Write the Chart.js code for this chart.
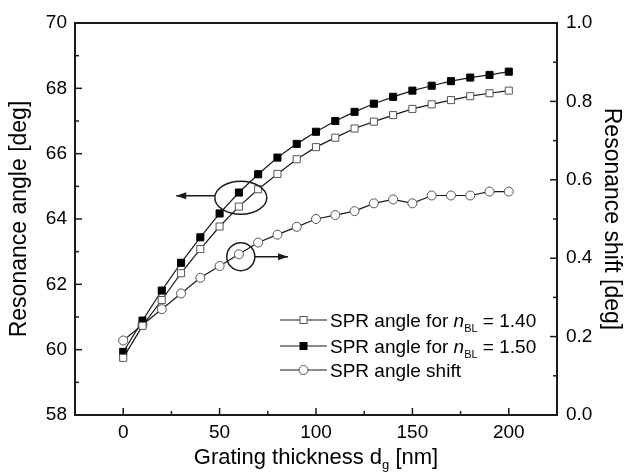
<!DOCTYPE html>
<html lang="en"><head><meta charset="UTF-8"><title>Resonance angle vs grating thickness</title>
<script src="https://cdn.jsdelivr.net/npm/chart.js"></script>
<style>
  html,body{margin:0;padding:0;background:#fff;}
  #wrap{width:631px;height:473px;position:relative;}
</style>
</head><body>
<div id="wrap"><canvas id="c"></canvas></div>
<script>
  // Values
  const thickness  = [0, 10, 20, 30, 40, 50, 60, 70, 80, 90, 100, 110, 120, 130, 140, 150, 160, 170, 180, 190, 200];
  const angle140   = [59.75, 60.73, 61.52, 62.34, 63.08, 63.77, 64.38, 64.91, 65.38, 65.83, 66.20, 66.49, 66.77, 66.98, 67.18, 67.37, 67.51, 67.64, 67.76, 67.85, 67.93];
  const angle150   = [59.93, 60.89, 61.81, 62.66, 63.44, 64.17, 64.81, 65.37, 65.88, 66.30, 66.67, 67.00, 67.28, 67.53, 67.74, 67.93, 68.08, 68.22, 68.33, 68.41, 68.51];
  const angleShift = [0.19, 0.23, 0.27, 0.31, 0.35, 0.38, 0.41, 0.44, 0.46, 0.48, 0.50, 0.51, 0.52, 0.54, 0.55, 0.54, 0.56, 0.56, 0.56, 0.57, 0.57];

  // Tick values
  const xMajorTicks  = [0, 50, 100, 150, 200];
  const xMinorTicks  = [25, 75, 125, 175];
  const yMajorTicks  = [58, 60, 62, 64, 66, 68, 70];
  const yMinorTicks  = [59, 61, 63, 65, 67, 69];
  const y2MajorTicks = [0, 0.2, 0.4, 0.6, 0.8, 1.0];
  const y2MinorTicks = [0.1, 0.3, 0.5, 0.7, 0.9];

  const FONT = '"Liberation Sans", Arial, sans-serif';
  const INK  = '#1a1a1a';

  const pts = arr => thickness.map((x, i) => ({ x, y: arr[i] }));
  const setTicks = list => scale => { scale.ticks = list.map(v => ({ value: v })); };

  function arrow(ctx, x1, y1, x2, y2) {
    ctx.beginPath(); ctx.moveTo(x1, y1); ctx.lineTo(x2, y2); ctx.stroke();
    const dir = Math.sign(x2 - x1);
    ctx.beginPath();
    ctx.moveTo(x2, y2);
    ctx.lineTo(x2 - dir * 10, y2 - 3.5);
    ctx.lineTo(x2 - dir * 10, y2 + 3.5);
    ctx.closePath(); ctx.fill();
  }

  const decor = {
    id: 'decor',
    afterDraw(chart) {
      const { ctx, chartArea: a, scales: { x, y, y2 } } = chart;
      ctx.save();
      ctx.strokeStyle = INK; ctx.fillStyle = INK;

      // frame
      ctx.lineWidth = 2;
      ctx.strokeRect(a.left, a.top, a.right - a.left, a.bottom - a.top);

      // inward ticks
      ctx.lineWidth = 1.5;
      const seg = (x1, y1, x2, y2) => { ctx.beginPath(); ctx.moveTo(x1, y1); ctx.lineTo(x2, y2); ctx.stroke(); };
      xMajorTicks.forEach(v => { const p = x.getPixelForValue(v); seg(p, a.bottom, p, a.bottom - 7); });
      xMinorTicks.forEach(v => { const p = x.getPixelForValue(v); seg(p, a.bottom, p, a.bottom - 4); });
      yMajorTicks.forEach(v => { const p = y.getPixelForValue(v); seg(a.left, p, a.left + 7, p); });
      yMinorTicks.forEach(v => { const p = y.getPixelForValue(v); seg(a.left, p, a.left + 4, p); });
      y2MajorTicks.forEach(v => { const p = y2.getPixelForValue(v); seg(a.right, p, a.right - 7, p); });
      y2MinorTicks.forEach(v => { const p = y2.getPixelForValue(v); seg(a.right, p, a.right - 4, p); });

      // ellipse + arrow pointing to the left axis
      const e1x = x.getPixelForValue(61), e1y = y.getPixelForValue(64.65);
      ctx.beginPath(); ctx.ellipse(e1x, e1y, 26, 16.5, 0, 0, Math.PI * 2); ctx.stroke();
      arrow(ctx, e1x - 26, e1y - 2, x.getPixelForValue(27.5), e1y - 2);

      // circle + arrow pointing to the right axis
      const e2x = x.getPixelForValue(61), e2y = y2.getPixelForValue(0.404);
      ctx.beginPath(); ctx.ellipse(e2x, e2y, 14, 14, 0, 0, Math.PI * 2); ctx.stroke();
      arrow(ctx, e2x + 14, e2y, x.getPixelForValue(85.5), e2y);

      // legend
      const lx = a.left + 205, rows = [a.top + 297, a.top + 323, a.top + 347];
      const labels = [['1.40', 'open'], ['1.50', 'filled'], [null, 'circle']];
      rows.forEach((ry, i) => {
        ctx.strokeStyle = INK; ctx.lineWidth = 1.2;
        seg(lx, ry, lx + 47, ry);
        const mx = lx + 23.5;
        ctx.lineWidth = 1;
        if (labels[i][1] === 'circle') {
          ctx.beginPath(); ctx.arc(mx, ry, 4.5, 0, Math.PI * 2);
          ctx.fillStyle = '#fff'; ctx.fill(); ctx.strokeStyle = '#555'; ctx.stroke();
        } else {
          ctx.fillStyle = labels[i][1] === 'filled' ? '#000' : '#fff';
          ctx.fillRect(mx - 3.5, ry - 3.5, 7, 7);
          ctx.strokeStyle = labels[i][1] === 'filled' ? '#000' : '#555';
          ctx.strokeRect(mx - 3.5, ry - 3.5, 7, 7);
        }
        ctx.fillStyle = '#000';
        ctx.textBaseline = 'alphabetic'; ctx.textAlign = 'left';
        let tx = lx + 50;
        const by = ry + 7;
        if (labels[i][0]) {
          ctx.font = '19px ' + FONT;
          ctx.fillText('SPR angle for ', tx, by); tx += ctx.measureText('SPR angle for ').width;
          ctx.font = 'italic 19px ' + FONT;
          ctx.fillText('n', tx, by); tx += ctx.measureText('n').width;
          ctx.font = '11px ' + FONT;
          ctx.fillText('BL', tx, by + 5); tx += ctx.measureText('BL').width;
          ctx.font = '19px ' + FONT;
          ctx.fillText(' = ' + labels[i][0], tx, by);
        } else {
          ctx.font = '19px ' + FONT;
          ctx.fillText('SPR angle shift', tx, by);
        }
      });

      // x axis title with subscript
      ctx.fillStyle = '#000';
      const big = '22px ' + FONT, small = '13px ' + FONT;
      ctx.font = big; const w1 = ctx.measureText('Grating thickness d').width;
      ctx.font = small; const w2 = ctx.measureText('g').width;
      ctx.font = big; const w3 = ctx.measureText(' [nm]').width;
      let tx = (a.left + a.right) / 2 - (w1 + w2 + w3) / 2;
      const ty = 464;
      ctx.fillText('Grating thickness d', tx, ty); tx += w1;
      ctx.font = small; ctx.fillText('g', tx, ty + 5); tx += w2;
      ctx.font = big; ctx.fillText(' [nm]', tx, ty);

      ctx.restore();
    }
  };

  new Chart(document.getElementById('c').getContext('2d'), {
    type: 'line',
    data: {
      datasets: [
        { label: 'SPR angle for nBL = 1.40', data: pts(angle140), yAxisID: 'y',
          borderColor: INK, borderWidth: 1.2, pointStyle: 'rect', pointRadius: 5,
          pointBackgroundColor: '#fff', pointBorderColor: '#555', pointBorderWidth: 1 },
        { label: 'SPR angle for nBL = 1.50', data: pts(angle150), yAxisID: 'y',
          borderColor: INK, borderWidth: 1.2, pointStyle: 'rect', pointRadius: 5,
          pointBackgroundColor: '#000', pointBorderColor: '#000', pointBorderWidth: 1 },
        { label: 'SPR angle shift', data: pts(angleShift), yAxisID: 'y2',
          borderColor: INK, borderWidth: 1.2, pointStyle: 'circle', pointRadius: 4.5,
          pointBackgroundColor: '#fff', pointBorderColor: '#555', pointBorderWidth: 1 }
      ]
    },
    options: {
      responsive: true, maintainAspectRatio: false, animation: false,
      layout: { padding: { top: 23, left: 0, right: 0, bottom: 0 } },
      plugins: { legend: { display: false }, tooltip: { enabled: false } },
      scales: {
        x: {
          type: 'linear', min: -25, max: 225,
          afterBuildTicks: setTicks(xMajorTicks),
          afterFit: s => { s.height = 58; },
          grid: { display: false, drawTicks: false }, border: { display: false },
          ticks: { padding: 6, color: '#000', font: { family: FONT, size: 19 } }
        },
        y: {
          type: 'linear', position: 'left', min: 58, max: 70,
          afterBuildTicks: setTicks(yMajorTicks),
          afterFit: s => { s.width = 75; },
          grid: { display: false, drawTicks: false }, border: { display: false },
          ticks: { padding: 8, color: '#000', font: { family: FONT, size: 19 } },
          title: { display: true, text: 'Resonance angle [deg]', color: '#000',
                   font: { family: FONT, size: 23 }, padding: { top: 6, bottom: 0 } }
        },
        y2: {
          type: 'linear', position: 'right', min: 0, max: 1.0,
          afterBuildTicks: setTicks(y2MajorTicks),
          afterFit: s => { s.width = 74; },
          grid: { display: false, drawTicks: false }, border: { display: false },
          ticks: { padding: 9, color: '#000', font: { family: FONT, size: 19 },
                   callback: v => v.toFixed(1) },
          title: { display: true, text: 'Resonance shift [deg]', color: '#000',
                   font: { family: FONT, size: 23 }, padding: { top: 6, bottom: 0 } }
        }
      }
    },
    plugins: [decor]
  });
</script>
</body></html>
